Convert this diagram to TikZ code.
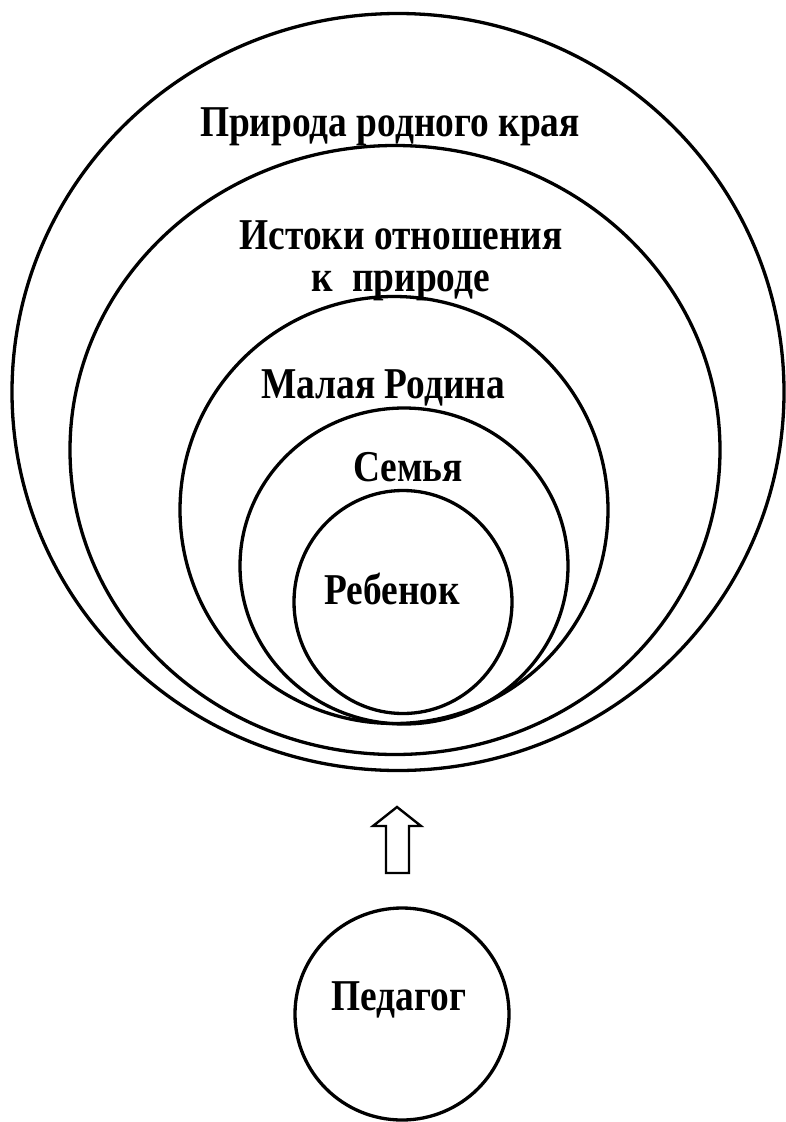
\documentclass[tikz,border=0pt]{standalone}
\usepackage{fontspec}
\setmainfont{Liberation Serif}[BoldFont={Liberation Serif Bold}]
\newfontfamily\lblf{Liberation Serif}[BoldFont={Liberation Serif Bold}]
\usetikzlibrary{shapes.geometric}
\begin{document}
\begin{tikzpicture}[x=1pt,y=-1pt,
  ring/.style={draw, line width=3.3pt, ellipse, inner sep=0pt},
  lbl/.style={font=\lblf\bfseries\fontsize{44}{48}\selectfont, anchor=base, inner sep=0pt, xscale=0.85, transform shape}]
\useasboundingbox (0,0) rectangle (785,1122);
\fill[white] (0,0) rectangle (785,1122);
% labels
\node[lbl] (t1) at (390,136) {Природа родного края};
\node[lbl] (t2a) at (401,249) {Истоки отношения};
\node[lbl] (t2b) at (401,291) {к\ \ природе};
\node[lbl] (t3) at (383,398) {Малая Родина};
\node[lbl] (t4) at (408,481) {Семья};
\node[lbl] (t5) at (392,604) {Ребенок};
\node[lbl] (t6) at (399,1010) {Педагог};
% rings
\node[ring, minimum width=772pt, minimum height=757pt] (r1) at (398,392) {};
\node[ring, minimum width=650pt, minimum height=609pt] (r2) at (395,450) {};
\node[ring, minimum width=428pt, minimum height=427pt] (r3) at (394,510) {};
\node[ring, minimum width=328pt, minimum height=316pt] (r4) at (404,566) {};
\node[ring, minimum width=218pt, minimum height=223pt] (r5) at (403,602) {};
\node[ring, minimum width=214pt, minimum height=212pt] (ped) at (402,1014) {};
% hollow arrow
\coordinate (tip) at (397,807);
\draw[line width=2.4pt, line join=miter]
  (tip) -- ++(24,19) -- ++(-12,0) -- ++(0,47) -- ++(-23,0) -- ++(0,-47) -- ++(-13,0) -- cycle;
\end{tikzpicture}
\end{document}
